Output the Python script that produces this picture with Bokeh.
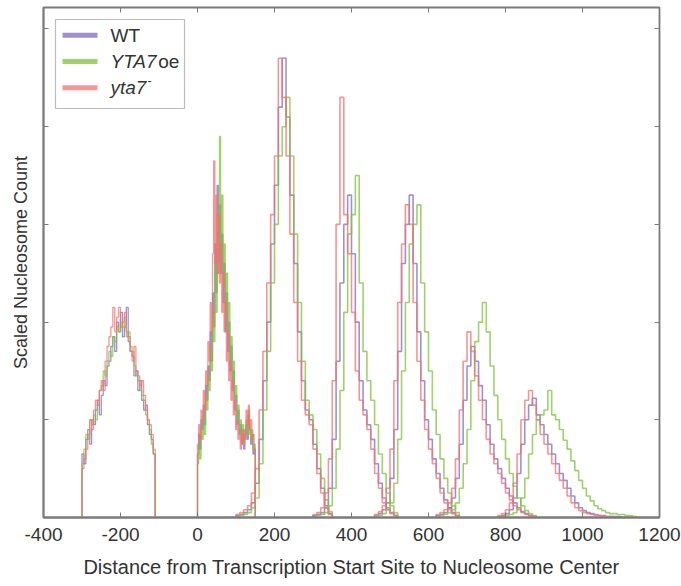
import numpy as np
from bokeh.plotting import figure
from bokeh.models import LinearAxis, FixedTicker, Range1d, BoxAnnotation
from bokeh.core.properties import value
from bokeh.embed import file_html
from bokeh.resources import INLINE

# ---------------- data ----------------
x_ticks = [-400, -200, 0, 200, 400, 600, 800, 1000, 1200]
x_tick_labels = ["-400", "-200", "0", "200", "400", "600", "800", "1000", "1200"]
y_ticks = [0, 1, 2, 3, 4, 5]

# left edge and bin width (bp) of each nucleosome histogram (-1, +1, +2, +3, +4, +5, +6)
starts = [-300, 0, 100, 300, 460, 620, 780]
bin_widths = [5, 3, 10, 10, 10, 10, 10]

# WT
wt_m1 = [0.65, 0.55, 0.80, 0.90, 0.75, 1.00, 0.95, 1.10, 1.20, 1.05,
         1.25, 1.40, 1.35, 1.55, 1.60, 1.75, 1.85, 1.70, 2.00, 1.90,
         2.10, 1.85, 1.95, 2.15, 1.80, 1.70, 1.65, 1.45, 1.50, 1.30,
         1.40, 1.20, 1.10, 1.15, 0.95, 0.85, 0.80, 0.65]
wt_p1 = [0.65, 0.85, 0.70, 1.00, 0.90, 1.15, 0.95, 1.35, 1.20, 1.55,
         1.40, 1.90, 1.60, 2.30, 1.95, 2.80, 2.30, 3.40, 2.60, 3.20,
         2.50, 2.90, 2.20, 2.60, 1.90, 2.30, 1.70, 2.00, 1.50, 1.75,
         1.30, 1.50, 1.10, 1.25, 0.95, 1.10, 0.85, 0.95, 0.75, 0.90,
         0.70, 0.85, 0.95, 0.80, 1.05, 0.90, 0.75, 0.85, 0.65, 0.70]
wt_p2 = [0.02, 0.03, 0.05, 0.08, 0.15, 0.35, 0.80, 1.40, 2.00, 2.80, 3.40, 4.20, 4.70, 4.10, 3.30, 2.60, 1.90, 1.40, 1.10, 1.00, 0.75, 0.50, 0.30, 0.12, 0.04]
wt_p3 = [0.02, 0.03, 0.05, 0.10, 0.30, 0.80, 1.60, 2.40, 3.00, 3.30, 2.70, 2.00, 1.40, 1.10, 0.95, 0.80, 0.55, 0.35, 0.20, 0.10, 0.05, 0.02]
wt_p4 = [0.02, 0.04, 0.08, 0.15, 0.40, 0.90, 1.70, 2.60, 3.00, 3.30, 2.60, 1.90, 1.40, 1.00, 0.80, 0.60, 0.45, 0.30, 0.18, 0.10, 0.05, 0.02]
wt_p5 = [0.02, 0.03, 0.05, 0.10, 0.20, 0.40, 0.75, 1.20, 1.55, 1.75, 1.60, 1.35, 1.20, 0.95, 0.75, 0.60, 0.50, 0.40, 0.30, 0.22, 0.15, 0.10, 0.06, 0.04, 0.02, 0.01]
wt_p6 = [0.01, 0.02, 0.04, 0.08, 0.20, 0.45, 0.75, 1.00, 1.15, 1.22, 1.05, 0.95, 0.85, 0.75, 0.65, 0.55, 0.45, 0.38, 0.30, 0.22, 0.15, 0.10, 0.07, 0.05, 0.04, 0.03, 0.02, 0.02, 0.01, 0.01, 0.01, 0.01, 0.00, 0.00, 0.00, 0.00]

# YTA7oe
oe_m1 = [0.55, 0.70, 0.85, 0.80, 1.00, 0.95, 1.05, 1.00, 1.15, 1.30,
         1.35, 1.50, 1.45, 1.60, 1.70, 1.65, 1.85, 1.80, 1.95, 1.90,
         2.00, 1.95, 2.05, 1.85, 1.90, 1.75, 1.70, 1.55, 1.45, 1.40,
         1.30, 1.25, 1.20, 1.05, 1.00, 0.90, 0.75, 0.65]
oe_p1 = [0.55, 0.75, 0.60, 0.90, 0.80, 1.05, 0.85, 1.25, 1.10, 1.45,
         1.30, 1.75, 1.50, 2.10, 1.80, 2.60, 2.10, 3.10, 2.50, 3.90,
         2.70, 3.30, 2.40, 2.80, 2.10, 2.50, 1.90, 2.20, 1.60, 1.85,
         1.40, 1.60, 1.20, 1.35, 1.00, 1.15, 0.90, 1.00, 0.80, 0.95,
         0.75, 0.80, 1.00, 0.85, 1.10, 0.85, 0.80, 0.90, 0.70, 0.75]
oe_p2 = [0.01, 0.02, 0.03, 0.05, 0.10, 0.20, 0.55, 1.10, 1.70, 2.40, 3.00, 3.70, 4.00, 4.30, 3.70, 2.90, 2.20, 1.60, 1.20, 1.05, 0.90, 0.65, 0.40, 0.18, 0.06]
oe_p3 = [0.01, 0.02, 0.03, 0.05, 0.12, 0.30, 0.70, 1.30, 2.10, 2.90, 3.10, 3.50, 2.40, 1.70, 1.40, 1.20, 0.95, 0.65, 0.45, 0.25, 0.12, 0.05]
oe_p4 = [0.01, 0.02, 0.04, 0.08, 0.15, 0.35, 0.80, 1.50, 2.20, 2.80, 3.00, 3.20, 2.40, 1.90, 1.50, 1.10, 0.85, 0.60, 0.40, 0.25, 0.12, 0.05]
oe_p5 = [0.01, 0.02, 0.03, 0.05, 0.08, 0.15, 0.30, 0.55, 0.90, 1.40, 1.80, 2.00, 2.20, 1.90, 1.55, 1.25, 1.00, 0.80, 0.60, 0.45, 0.32, 0.20, 0.12, 0.07, 0.04, 0.02]
oe_p6 = [0.01, 0.01, 0.02, 0.03, 0.05, 0.10, 0.20, 0.40, 0.65, 0.85, 1.00, 1.05, 1.10, 1.30, 1.05, 1.00, 0.90, 0.79, 0.70, 0.58, 0.48, 0.38, 0.30, 0.22, 0.17, 0.12, 0.09, 0.07, 0.05, 0.04, 0.04, 0.03, 0.03, 0.02, 0.02, 0.01]

# yta7-
ko_m1 = [0.50, 0.60, 0.70, 0.85, 1.00, 0.90, 1.10, 1.20, 1.15, 1.30,
         1.40, 1.30, 1.60, 1.75, 1.85, 1.95, 2.15, 1.90, 2.05, 2.15,
         1.95, 2.00, 2.10, 1.90, 1.85, 1.70, 1.60, 1.75, 1.50, 1.45,
         1.35, 1.40, 1.25, 1.10, 1.00, 0.95, 0.85, 0.70]
ko_p1 = [0.75, 0.95, 0.80, 1.10, 1.00, 1.30, 1.10, 1.50, 1.35, 1.80,
         1.60, 2.20, 1.90, 2.70, 3.65, 2.60, 3.30, 2.50, 3.10, 2.40,
         2.80, 2.10, 2.50, 1.90, 2.20, 1.60, 1.90, 1.40, 1.60, 1.20,
         1.40, 1.05, 1.20, 0.90, 1.00, 0.80, 0.90, 0.70, 0.85, 0.75,
         0.90, 0.80, 1.10, 0.95, 1.15, 0.90, 1.00, 0.80, 0.85, 0.70]
ko_p2 = [0.03, 0.05, 0.08, 0.12, 0.25, 0.50, 1.10, 1.70, 2.40, 3.10, 3.70, 4.70, 4.30, 3.70, 2.90, 2.20, 1.60, 1.20, 1.05, 0.95, 0.70, 0.45, 0.25, 0.10, 0.03]
ko_p3 = [0.03, 0.05, 0.10, 0.25, 0.60, 1.40, 3.00, 4.30, 3.10, 2.70, 2.10, 1.50, 1.20, 1.05, 0.90, 0.70, 0.45, 0.30, 0.15, 0.08, 0.04, 0.02]
ko_p4 = [0.03, 0.06, 0.12, 0.30, 0.70, 1.40, 2.20, 2.80, 3.20, 3.00, 2.20, 1.60, 1.20, 0.90, 0.70, 0.55, 0.40, 0.25, 0.15, 0.08, 0.04, 0.02]
ko_p5 = [0.03, 0.05, 0.08, 0.15, 0.30, 0.60, 1.10, 1.60, 1.90, 1.70, 1.45, 1.20, 1.00, 0.80, 0.65, 0.55, 0.45, 0.35, 0.25, 0.18, 0.12, 0.08, 0.05, 0.03, 0.02, 0.01]
ko_p6 = [0.02, 0.04, 0.08, 0.15, 0.35, 0.65, 1.00, 1.20, 1.30, 1.15, 1.00, 0.85, 0.75, 0.65, 0.55, 0.45, 0.38, 0.30, 0.22, 0.15, 0.10, 0.07, 0.05, 0.04, 0.03, 0.02, 0.02, 0.01, 0.01, 0.01, 0.00, 0.00, 0.00, 0.00, 0.00, 0.00]

series = [
    ("WT", "#7f6cc0", [wt_m1, wt_p1, wt_p2, wt_p3, wt_p4, wt_p5, wt_p6]),
    ("YTA7oe", "#80c23e", [oe_m1, oe_p1, oe_p2, oe_p3, oe_p4, oe_p5, oe_p6]),
    ("yta7-", "#f27272", [ko_m1, ko_p1, ko_p2, ko_p3, ko_p4, ko_p5, ko_p6]),
]

# ---------------- figure ----------------
FONT = "Liberation Sans"
TXT = "#333333"
FRAME = "#7a7a7a"

p = figure(frame_width=616, frame_height=510,
           min_border_left=43, min_border_right=22, min_border_top=7, min_border_bottom=69,
           x_range=Range1d(-400, 1200), y_range=Range1d(0, 5.22),
           output_backend="svg", toolbar_location=None, tools="")
p.background_fill_color = "white"
p.border_fill_color = "white"
p.outline_line_color = FRAME
p.outline_line_width = 1.8
p.xgrid.visible = False
p.ygrid.visible = False

for name, color, hists in series:
    for st, bw, vals in zip(starts, bin_widths, hists):
        v = np.asarray(vals, dtype=float)
        edges = st + bw * np.arange(len(v) + 1)
        xs = np.repeat(edges, 2)
        ys = np.concatenate([[0.0], np.repeat(v, 2), [0.0]])
        p.line(xs, ys, line_color=color, line_alpha=0.75,
               line_width=1.3 if bw < 10 else 1.6)

# axes
xa = p.xaxis[0]
xa.ticker = FixedTicker(ticks=x_ticks)
xa.major_label_overrides = {t: l for t, l in zip(x_ticks, x_tick_labels)}
xa.axis_label = "Distance from Transcription Start Site to Nucleosome Center"
ya = p.yaxis[0]
ya.ticker = FixedTicker(ticks=y_ticks)
ya.axis_label = "Scaled Nucleosome Count"

for ax in (xa, ya):
    ax.axis_line_color = FRAME
    ax.axis_line_width = 1.8
    ax.major_tick_line_color = FRAME
    ax.major_tick_in = 5
    ax.major_tick_out = 0
    ax.minor_tick_line_color = None
    ax.major_label_text_font = FONT
    ax.major_label_text_color = TXT
    ax.axis_label_text_font = FONT
    ax.axis_label_text_font_style = "normal"
    ax.axis_label_text_color = TXT
xa.major_label_text_font_size = "19px"
xa.axis_label_text_font_size = "20px"
xa.major_label_standoff = 10
xa.axis_label_standoff = 12
ya.major_label_text_font_size = "0px"
ya.major_label_standoff = 0
ya.axis_label_text_font_size = "18px"
ya.axis_label_standoff = 13

top = LinearAxis(ticker=FixedTicker(ticks=x_ticks), major_label_text_font_size="0px",
                 major_label_standoff=0, axis_line_color=None, major_tick_in=5, major_tick_out=0,
                 major_tick_line_color=FRAME, minor_tick_line_color=None)
right = LinearAxis(ticker=FixedTicker(ticks=y_ticks), major_label_text_font_size="0px",
                   major_label_standoff=0, axis_line_color=None, major_tick_in=5, major_tick_out=0,
                   major_tick_line_color=FRAME, minor_tick_line_color=None)
p.add_layout(top, "above")
p.add_layout(right, "right")

# legend (drawn manually to allow mixed italic text)
p.add_layout(BoxAnnotation(left=-368.8, right=-33.8, bottom=4.186, top=5.097,
                           fill_color=None, line_color="#222222", line_width=1.2))
row_y = [4.937, 4.667, 4.398]
for (name, color, _), yy in zip(series, row_y):
    p.segment(x0=[-350.6], x1=[-259.7], y0=[yy], y1=[yy], line_color=color,
              line_alpha=0.75, line_width=5)

LFS = "19px"
tx = -226
p.text(x=[tx], y=[row_y[0]], text=["WT"], text_font=value(FONT), text_font_size=LFS,
       text_baseline="middle", text_color=TXT)
p.text(x=[tx], y=[row_y[1]], text=["YTA7"], text_font=value(FONT), text_font_size=LFS,
       text_font_style="italic", text_baseline="middle", text_color=TXT)
p.text(x=[tx + 124], y=[row_y[1]], text=["oe"], text_font=value(FONT), text_font_size=LFS,
       text_baseline="middle", text_color=TXT)
p.text(x=[tx], y=[row_y[2]], text=["yta7"], text_font=value(FONT), text_font_size=LFS,
       text_font_style="italic", text_baseline="middle", text_color=TXT)
p.text(x=[tx + 96], y=[row_y[2] + 0.07], text=["-"], text_font=value(FONT), text_font_size="12px",
       text_baseline="middle", text_color=TXT)

open("out.html", "w").write(file_html(p, INLINE))
